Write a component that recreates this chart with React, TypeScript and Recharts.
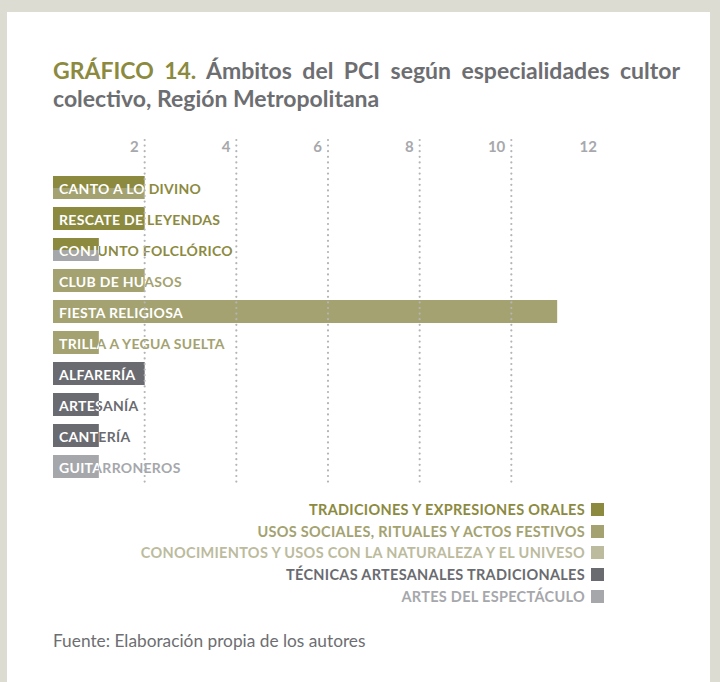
import React from 'react'
import { BarChart, Bar, XAxis, YAxis, ReferenceLine } from 'recharts'

const categories = [
  'CANTO A LO DIVINO',
  'RESCATE DE LEYENDAS',
  'CONJUNTO FOLCLÓRICO',
  'CLUB DE HUASOS',
  'FIESTA RELIGIOSA',
  'TRILLA A YEGUA SUELTA',
  'ALFARERÍA',
  'ARTESANÍA',
  'CANTERÍA',
  'GUITARRONEROS',
]

const tradiciones = [2, 2, 1, 0, 0, 0, 0, 0, 0, 0]
const usosSociales = [2, 0, 0, 2, 11, 1, 0, 0, 0, 0]
const conocimientos = [0, 0, 0, 0, 0, 0, 0, 0, 0, 0]
const tecnicas = [0, 0, 0, 0, 0, 0, 2, 1, 1, 0]
const artes = [0, 0, 1, 0, 0, 0, 0, 0, 0, 1]

const xTicks = [2, 4, 6, 8, 10, 12]
const gridValues = [2, 4, 6, 8, 10]

const series = [
  { name: 'TRADICIONES Y EXPRESIONES ORALES', values: tradiciones, color: '#8c8a3f' },
  { name: 'USOS SOCIALES, RITUALES Y ACTOS FESTIVOS', values: usosSociales, color: '#a4a270' },
  { name: 'CONOCIMIENTOS Y USOS CON LA NATURALEZA Y EL UNIVESO', values: conocimientos, color: '#bcbb9d' },
  { name: 'TÉCNICAS ARTESANALES TRADICIONALES', values: tecnicas, color: '#6a6b70' },
  { name: 'ARTES DEL ESPECTÁCULO', values: artes, color: '#a6a7ab' },
]

// one row per category: the first and last series present share the bar (top / bottom half)
const rows = categories.map((name, i) => {
  const present = series.filter(s => s.values[i] > 0)
  return {
    name,
    value: Math.max(...present.map(s => s.values[i])),
    top: present[0].color,
    bottom: present[present.length - 1].color,
  }
})

const FONT = 'Lato, "Open Sans", sans-serif'
const GRAY = '#6d6e71'

// eslint-disable-next-line @typescript-eslint/no-explicit-any
const RowShape = (props: any) => {
  const { x, y, width, height, index, payload } = props
  const half = Math.round(height / 2)
  const id = `row-clip-${index}`
  const label = {
    x: x + 6,
    y: y + height / 2 + 1,
    dominantBaseline: 'central' as const,
    fontFamily: FONT,
    fontWeight: 700,
    fontSize: 14,
    letterSpacing: 0.3,
  }
  return (
    <g>
      {payload.top === payload.bottom ? (
        <rect x={x} y={y} width={width} height={height} fill={payload.top} />
      ) : (
        <>
          <rect x={x} y={y} width={width} height={half} fill={payload.top} />
          <rect x={x} y={y + half} width={width} height={height - half} fill={payload.bottom} />
        </>
      )}
      <clipPath id={id}>
        <rect x={x} y={y} width={width} height={height} />
      </clipPath>
      <text {...label} fill={payload.top}>{payload.name}</text>
      <text {...label} fill="#ffffff" clipPath={`url(#${id})`}>{payload.name}</text>
    </g>
  )
}

// eslint-disable-next-line @typescript-eslint/no-explicit-any
const Tick = (props: any) => {
  const { x, payload } = props
  return (
    <text x={x - 6} y={32} textAnchor="end" fill="#a7a8ac"
      fontFamily={FONT} fontWeight={700} fontSize={15}>
      {payload.value}
    </text>
  )
}

export default function App() {
  return (
    <div style={{ position: 'absolute', left: 0, top: 0, width: 720, height: 682, background: '#dddcd2' }}>
      <div style={{ position: 'absolute', left: 7, top: 12, width: 703, height: 670, background: '#ffffff' }} />

      <div style={{ position: 'absolute', left: 53, top: 56, width: 627, fontFamily: FONT, fontWeight: 700, fontSize: 23, lineHeight: '28px', color: GRAY }}>
        <div style={{ textAlignLast: 'justify', whiteSpace: 'nowrap' }}>
          <span style={{ color: '#8c8a3f' }}>GRÁFICO 14.</span> Ámbitos del PCI según especialidades cultor
        </div>
        <div>colectivo, Región Metropolitana</div>
      </div>

      <div style={{ position: 'absolute', left: 0, top: 120 }}>
        <BarChart
          width={720}
          height={380}
          data={rows}
          layout="vertical"
          margin={{ top: 19, right: 117, left: 53, bottom: 18 }}
          barSize={23}
        >
          <XAxis
            type="number"
            orientation="top"
            domain={[0, 12]}
            ticks={xTicks}
            interval={0}
            height={1}
            tick={<Tick />}
            tickLine={false}
            axisLine={false}
          />
          <YAxis type="category" dataKey="name" hide padding={{ top: 32, bottom: 0 }} />
          {gridValues.map(v => (
            <ReferenceLine key={v} x={v} stroke="#b3b4b7" strokeWidth={2.2}
              strokeDasharray="0 5.6" strokeLinecap="round" />
          ))}
          <Bar dataKey="value" shape={<RowShape />} isAnimationActive={false} />
        </BarChart>
      </div>

      <div style={{ position: 'absolute', right: 116, top: 499, fontFamily: FONT, fontWeight: 700, fontSize: 14.5, letterSpacing: 0.3 }}>
        {series.map(s => (
          <div key={s.name} style={{ display: 'flex', justifyContent: 'flex-end', alignItems: 'center', height: 21.6, color: s.color }}>
            <span>{s.name}</span>
            <span style={{ display: 'inline-block', width: 13, height: 13, background: s.color, marginLeft: 6 }} />
          </div>
        ))}
      </div>

      <div style={{ position: 'absolute', left: 53, top: 630, fontFamily: FONT, fontSize: 17.3, color: GRAY }}>
        Fuente: Elaboración propia de los autores
      </div>
    </div>
  )
}
